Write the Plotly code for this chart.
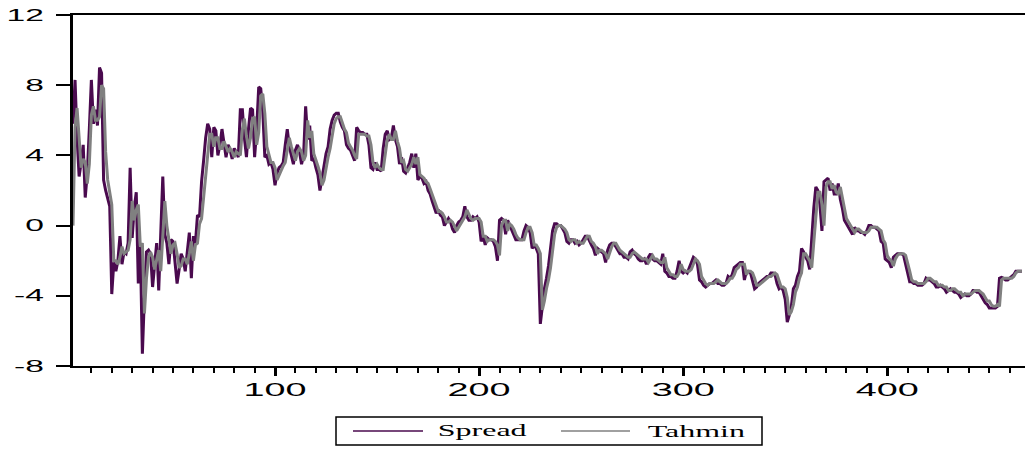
import plotly.graph_objects as go

spread = [
    5.8, 8.3, 5.0, 2.8, 3.6, 4.6, 1.6, 3.0, 5.5, 8.3,
    5.8, 6.6, 5.7, 9.0, 8.7, 2.6, 2.0, 1.6, 1.1, -3.9,
    -2.1, -2.6, -2.0, -0.6, -2.2, -1.5, -1.6, -1.0, 3.3, -0.7,
    1.0, 1.9, -3.3, -1.2, -7.3, -4.0, -1.5, -1.4, -1.6, -3.5,
    -2.2, -1.0, -3.7, -0.5, 2.8, -0.5, -1.0, -2.2, -0.8, -0.9,
    -2.0, -3.3, -2.5, -1.6, -1.9, -2.6, -1.5, -0.4, -3.0, -0.6,
    -1.0, 0.6, 0.5, 2.5, 3.7, 5.0, 5.8, 5.5, 3.9, 5.6,
    5.4, 4.0, 4.6, 5.5, 4.7, 3.9, 4.6, 4.3, 3.8, 4.4,
    4.2, 3.9, 6.6, 6.6, 5.0, 3.9, 5.5, 6.7, 6.6, 3.9,
    5.5, 7.9, 7.8, 6.5, 3.9, 4.0, 3.5, 3.6, 3.2, 2.3,
    3.0, 3.3, 3.4, 3.6, 4.6, 5.5, 4.5, 4.0, 3.5, 4.3,
    4.6, 4.2, 3.5, 4.0, 6.8, 4.9, 5.7, 3.7, 3.8, 3.3,
    2.9, 2.0, 2.6, 3.4, 4.1, 4.5, 5.5, 6.0, 6.3, 6.4,
    6.4, 5.9, 5.6, 5.4, 4.6, 4.4, 4.3, 4.0, 3.7, 5.6,
    5.4, 5.3, 5.3, 5.2, 5.2, 4.6, 3.3, 3.2, 3.6, 3.2,
    3.2, 3.1, 4.4, 5.2, 5.4, 4.9, 5.0, 5.7, 4.9, 4.5,
    3.5, 3.9, 3.1, 3.0, 3.3, 3.6, 4.1, 3.3, 4.1, 2.6,
    2.8, 2.7, 2.4, 2.5, 2.0, 1.8, 1.4, 1.0, 0.7, 0.9,
    0.6, 0.5, 0.0, 0.2, 0.4, 0.2, -0.2, -0.4, 0.0, 0.2,
    0.3, 0.5, 1.1, 0.5, 0.3, 0.3, 0.5, 0.4, 0.5, 0.2,
    -0.9, -0.6, -1.1, -0.7, -0.8, -0.8, -0.9, -1.2, -2.0, 0.3,
    0.4, 0.3, -0.5, 0.3, 0.0, -0.3, -0.6, -0.8, -0.8, -0.8,
    -0.8, -0.3, 0.0, -0.1, -0.4, -1.3, -1.1, -1.3, -1.6, -5.6,
    -4.4, -3.6, -3.0, -2.3, -1.3, -0.3, 0.1, 0.1, 0.0, 0.0,
    -0.2, -0.4, -0.9, -1.0, -0.8, -0.8, -1.0, -0.9, -1.1, -1.0,
    -0.8, -0.6, -0.6, -0.9, -1.1, -1.3, -1.7, -1.3, -1.4, -1.5,
    -1.6, -2.1, -1.4, -1.1, -1.0, -1.0, -1.2, -1.4, -1.6, -1.6,
    -1.8, -1.8, -1.9, -1.5, -1.4, -1.6, -1.7, -1.9, -2.0, -2.0,
    -1.9, -2.2, -1.8, -1.6, -1.9, -2.0, -2.0, -2.1, -2.2, -1.6,
    -2.6, -2.7, -2.9, -2.9, -3.0, -3.0, -2.6, -2.0, -2.6, -2.7,
    -2.6, -2.7, -2.4, -2.1, -1.8, -1.9, -2.2, -3.1, -3.2, -3.4,
    -3.5, -3.4, -3.3, -3.3, -3.2, -3.1, -3.3, -3.3, -3.4, -3.4,
    -3.3, -2.9, -3.0, -2.8, -2.4, -2.3, -2.2, -2.1, -2.1, -3.1,
    -2.6, -2.6, -2.7, -3.1, -3.6, -3.5, -3.3, -3.2, -3.1, -3.0,
    -2.9, -2.9, -2.7, -2.7, -2.8, -3.3, -3.6, -3.5, -3.7, -4.2,
    -5.5, -5.1, -4.6, -3.6, -3.4, -2.9, -2.6, -1.3, -1.5, -1.8,
    -2.0, -2.5, -0.7, 1.0, 2.2, 2.0, 1.2, -0.3, 2.5, 2.6,
    2.7, 2.0, 2.4, 1.8, 1.8, 2.4, 1.5, 1.0, 0.3, 0.1,
    -0.1, -0.3, -0.5, -0.1, -0.3, -0.3, -0.4, -0.4, -0.5, -0.3,
    0.0, 0.0, -0.1, -0.1, -0.2, -0.3, -0.9, -1.0, -1.9, -2.0,
    -2.1, -2.4, -1.8, -1.7, -1.6, -1.6, -1.6, -1.7, -2.2, -2.7,
    -3.2, -3.2, -3.3, -3.3, -3.4, -3.4, -3.4, -3.3, -3.0, -3.1,
    -3.1, -3.2, -3.3, -3.5, -3.5, -3.4, -3.5, -3.6, -3.8, -3.7,
    -3.6, -3.7, -3.8, -3.8, -3.9, -4.1, -4.0, -3.9, -4.0, -4.0,
    -3.9, -3.7, -3.7, -3.8, -3.8, -4.0, -4.2, -4.4, -4.5, -4.7,
    -4.7, -4.7, -4.7, -4.6, -3.0, -2.95, -3.0, -3.1, -3.1, -3.0,
    -2.9, -2.8, -2.6, -2.6, -2.6, -2.6,
]

# Fitted series
tahmin = [
    0.0, 5.6, 6.7, 5.0, 3.3, 3.8, 3.6, 2.4, 3.5, 6.3,
    6.8, 6.0, 6.0, 6.2, 8.0, 7.8, 4.2, 2.6, 1.8, 1.2,
    -2.0, -2.0, -2.2, -1.8, -1.2, -1.6, -1.5, -1.4, -0.8, 1.4,
    0.3, 0.9, 1.2, -1.2, -1.0, -5.0, -3.0, -1.8, -1.5, -1.8,
    -2.5, -2.0, -1.4, -2.6, -0.9, 1.4, 0.0, -0.8, -1.6, -1.1,
    -1.0, -1.6, -2.4, -2.3, -1.9, -1.9, -2.2, -1.6, -0.9, -2.0,
    -1.1, -1.0, 0.1, 0.4, 1.7, 3.0, 4.0, 5.2, 5.2, 4.5,
    5.0, 5.0, 4.4, 4.4, 4.8, 4.5, 4.2, 4.4, 4.2, 3.9,
    4.2, 4.1, 4.0, 5.5, 6.1, 5.1, 4.4, 5.0, 6.1, 6.2,
    4.6, 5.3, 7.4, 7.5, 6.4, 4.5, 4.1, 3.6, 3.6, 3.3,
    2.6, 2.9, 3.2, 3.4, 3.6, 4.3, 5.0, 4.5, 4.1, 3.7,
    4.2, 4.4, 4.2, 3.7, 4.0, 6.0, 5.0, 5.4, 4.1, 3.8,
    3.4, 3.0, 2.3, 2.6, 3.3, 3.9, 4.4, 5.2, 5.8, 6.1,
    6.2, 6.2, 5.8, 5.5, 5.3, 4.7, 4.5, 4.3, 4.0, 3.8,
    5.2, 5.2, 5.2, 5.2, 5.1, 5.1, 4.6, 3.6, 3.3, 3.5,
    3.3, 3.2, 3.2, 4.1, 4.9, 5.2, 4.9, 4.9, 5.4, 4.8,
    4.4, 3.6, 3.7, 3.2, 3.1, 3.3, 3.5, 3.9, 3.5, 3.9,
    2.9, 2.8, 2.7, 2.5, 2.4, 2.1, 1.8, 1.5, 1.1, 0.8,
    0.8, 0.7, 0.5, 0.2, 0.2, 0.3, 0.2, -0.1, -0.3, -0.1,
    0.1, 0.3, 0.5, 0.9, 0.6, 0.4, 0.3, 0.4, 0.4, 0.4,
    0.2, -0.6, -0.6, -0.9, -0.8, -0.8, -0.8, -0.9, -1.1, -1.7,
    0.0, 0.3, 0.3, -0.3, 0.1, 0.0, -0.2, -0.5, -0.7, -0.8,
    -0.8, -0.8, -0.4, -0.1, -0.1, -0.4, -1.1, -1.1, -1.3, -1.6,
    -4.8, -4.3, -3.6, -3.1, -2.4, -1.5, -0.5, -0.1, 0.0, 0.0,
    -0.1, -0.2, -0.4, -0.8, -0.9, -0.8, -0.8, -1.0, -0.9, -1.0,
    -1.0, -0.8, -0.6, -0.6, -0.9, -1.0, -1.2, -1.6, -1.4, -1.4,
    -1.5, -1.6, -1.9, -1.5, -1.2, -1.0, -1.0, -1.2, -1.4, -1.5,
    -1.6, -1.7, -1.8, -1.8, -1.6, -1.5, -1.6, -1.7, -1.8, -1.9,
    -1.9, -1.9, -2.1, -1.9, -1.7, -1.9, -1.9, -2.0, -2.1, -2.1,
    -1.8, -2.4, -2.6, -2.8, -2.8, -2.9, -2.9, -2.7, -2.2, -2.5,
    -2.6, -2.6, -2.6, -2.5, -2.2, -1.9, -2.0, -2.2, -2.9, -3.1,
    -3.3, -3.4, -3.3, -3.3, -3.3, -3.2, -3.1, -3.2, -3.3, -3.3,
    -3.3, -3.2, -3.0, -3.0, -2.8, -2.5, -2.4, -2.2, -2.2, -2.2,
    -2.8, -2.6, -2.6, -2.7, -3.0, -3.4, -3.4, -3.3, -3.2, -3.1,
    -3.0, -2.9, -2.9, -2.8, -2.7, -2.8, -3.2, -3.5, -3.5, -3.6,
    -4.1, -5.1, -4.9, -4.5, -3.8, -3.5, -3.0, -2.7, -1.6, -1.6,
    -1.8, -2.0, -2.4, -1.0, 0.6, 1.9, 1.9, 1.2, 0.0, 2.2,
    2.5, 2.5, 2.1, 2.3, 1.9, 1.8, 2.2, 1.6, 1.1, 0.4,
    0.2, 0.0, -0.2, -0.4, -0.2, -0.2, -0.3, -0.4, -0.4, -0.4,
    -0.3, -0.1, -0.1, -0.1, -0.1, -0.2, -0.3, -0.8, -1.0, -1.7,
    -1.9, -2.0, -2.3, -1.9, -1.7, -1.6, -1.6, -1.6, -1.7, -2.1,
    -2.6, -3.1, -3.2, -3.2, -3.3, -3.3, -3.3, -3.3, -3.2, -3.0,
    -3.0, -3.1, -3.2, -3.2, -3.4, -3.4, -3.4, -3.5, -3.5, -3.7,
    -3.7, -3.6, -3.6, -3.7, -3.8, -3.8, -4.0, -3.9, -3.9, -3.9,
    -3.9, -3.8, -3.7, -3.7, -3.7, -3.8, -3.9, -4.1, -4.3, -4.3,
    -4.5, -4.6, -4.6, -4.5, -4.6, -3.1, -3.0, -3.0, -3.0, -3.0,
    -3.0, -2.9, -2.7, -2.6, -2.6, -2.6,
]

obs = list(range(1, len(spread) + 1))

x_ticks = [100, 200, 300, 400]
y_ticks = [-8, -4, 0, 4, 8, 12]
series_names = ["Spread", "Tahmin"]
series_colors = ["#4a0a4e", "#808080"]

fig = go.Figure()
fig.add_trace(go.Scatter(x=obs, y=spread, mode="lines", name=series_names[0],
                         line=dict(color=series_colors[0], width=3), showlegend=False))
fig.add_trace(go.Scatter(x=obs, y=tahmin, mode="lines", name=series_names[1],
                         line=dict(color=series_colors[1], width=3), showlegend=False))

# pixel -> paper helpers for the framed legend under the plot
W, H = 1025, 449
L, R, T, B = 73, 0, 15, 83
pw, ph = W - L - R, H - T - B
def px(x):
    return (x - L) / pw
def py(y):
    return (H - B - y) / ph

shapes = [
    dict(type="rect", xref="paper", yref="paper", x0=px(336), x1=px(762), y0=py(445), y1=py(417),
         line=dict(color="black", width=1.5), fillcolor="white", layer="above"),
    dict(type="line", xref="paper", yref="paper", x0=px(353), x1=px(423), y0=py(431), y1=py(431),
         line=dict(color=series_colors[0], width=1.5), layer="above"),
    dict(type="line", xref="paper", yref="paper", x0=px(561), x1=px(630), y0=py(431), y1=py(431),
         line=dict(color=series_colors[1], width=1.5), layer="above"),
]
annotations = [
    dict(text=series_names[0], xref="paper", yref="paper", x=px(482), y=py(431),
         xanchor="center", yanchor="middle", showarrow=False,
         font=dict(family="Liberation Serif", size=16, color="black")),
    dict(text=series_names[1], xref="paper", yref="paper", x=px(696), y=py(431),
         xanchor="center", yanchor="middle", showarrow=False,
         font=dict(family="Liberation Serif", size=16, color="black")),
]

fig.update_layout(
    width=W, height=H,
    margin=dict(l=L, r=R, t=T, b=B, pad=0),
    paper_bgcolor="white", plot_bgcolor="white",
    showlegend=False,
    shapes=shapes, annotations=annotations,
    xaxis=dict(range=[1, 467.5], tickmode="array", tickvals=x_ticks,
               ticktext=[str(v) for v in x_ticks],
               ticks="outside", ticklen=8, tickwidth=2.5, tickcolor="black",
               showline=True, linecolor="black", linewidth=2, mirror=True,
               showgrid=False, zeroline=False, ticklabelstandoff=-2,
               tickfont=dict(family="Liberation Sans", size=18, color="black"),
               minor=dict(dtick=10, tick0=0, ticks="outside", ticklen=5, tickwidth=2,
                          tickcolor="black", showgrid=False)),
    yaxis=dict(range=[-8, 12], tickmode="array", tickvals=y_ticks,
               ticktext=[str(v) for v in y_ticks],
               ticks="outside", ticklen=14, tickwidth=1.6, tickcolor="black",
               showline=True, linecolor="black", linewidth=2.5, mirror=False,
               showgrid=False, zeroline=False, ticklabelstandoff=9,
               tickfont=dict(family="Liberation Sans", size=16, color="black")),
)

post = """
var gd = document.getElementById('{plot_id}');
function stretch(sel, s, mode) {
  gd.querySelectorAll(sel).forEach(function (t) {
    var b = t.getBBox();
    var ax = mode === 'right' ? b.x + b.width : b.x + b.width / 2;
    var tr = t.getAttribute('transform') || '';
    t.setAttribute('transform', tr + ' translate(' + ax + ',0) scale(' + s + ',1) translate(' + (-ax) + ',0)');
  });
}
stretch('g.xtick text', 2.1, 'center');
stretch('g.ytick text', 2.1, 'right');
stretch('g.annotation text', 2.0, 'center');
"""

fig.write_html("out.html", post_script=post)
